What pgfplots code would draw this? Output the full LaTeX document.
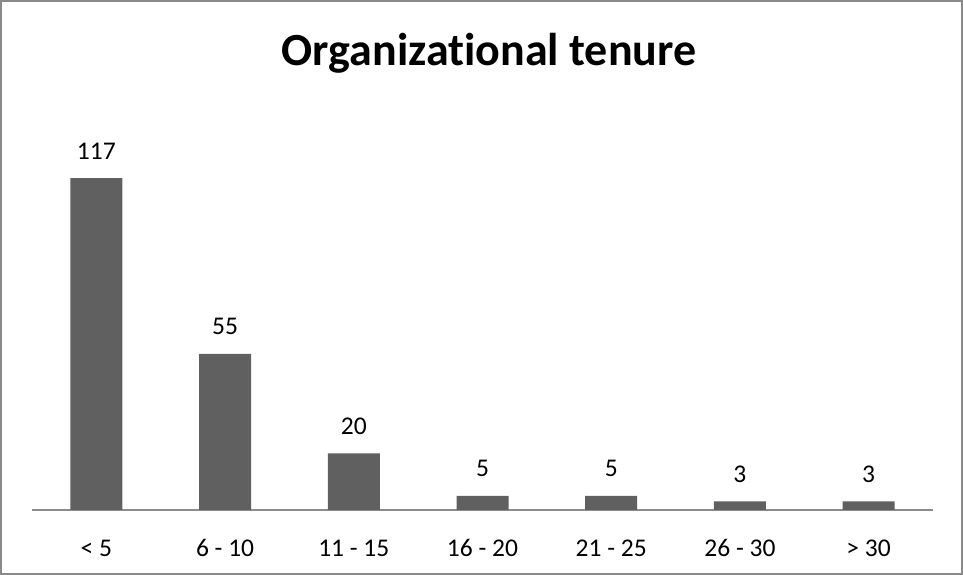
\documentclass[border=0pt]{standalone}
\usepackage{fontspec}
\setmainfont{Carlito}[Ligatures=CommonOff]
\usepackage{pgfplots}
\pgfplotsset{compat=1.18}
\definecolor{barfill}{HTML}{606060}
\definecolor{framegray}{HTML}{8A8A8A}
\definecolor{axisgray}{HTML}{8C8C8C}
\begin{document}
\begin{tikzpicture}[x=1bp,y=1bp]
\useasboundingbox (0,0) rectangle (963,575);
\draw[framegray, line width=2bp] (1,1) rectangle (962,574);
\node[anchor=base, inner sep=0pt, font=\fontsize{46bp}{52bp}\selectfont\bfseries] at (489,509) {Organizational tenure};
\begin{axis}[
  at={(32bp,65bp)}, anchor=south west,
  scale only axis,
  width=901bp, height=400bp,
  xmin=-0.5, xmax=6.5,
  ymin=0, ymax=141,
  axis x line=bottom, axis y line=none,
  x axis line style={-, draw=axisgray, line width=1.5bp},
  xtick=data,
  xticklabels={< 5, 6 - 10, 11 - 15, 16 - 20, 21 - 25, 26 - 30, > 30},
  xtick style={draw=none},
  ytick=\empty,
  /pgf/number format/assume math mode=true,
  xticklabel style={anchor=base, inner sep=0pt, yshift=-44bp, font=\fontsize{25.5bp}{30bp}\selectfont},
  nodes near coords,
  every node near coord/.append style={anchor=base, inner sep=0pt, yshift=19bp, font=\fontsize{25.5bp}{30bp}\selectfont, black},
]
\addplot[ybar, bar width=52bp, fill=barfill, draw=none] coordinates {
(0,117) (1,55) (2,20) (3,5) (4,5) (5,3) (6,3)
};
\end{axis}
\end{tikzpicture}
\end{document}
